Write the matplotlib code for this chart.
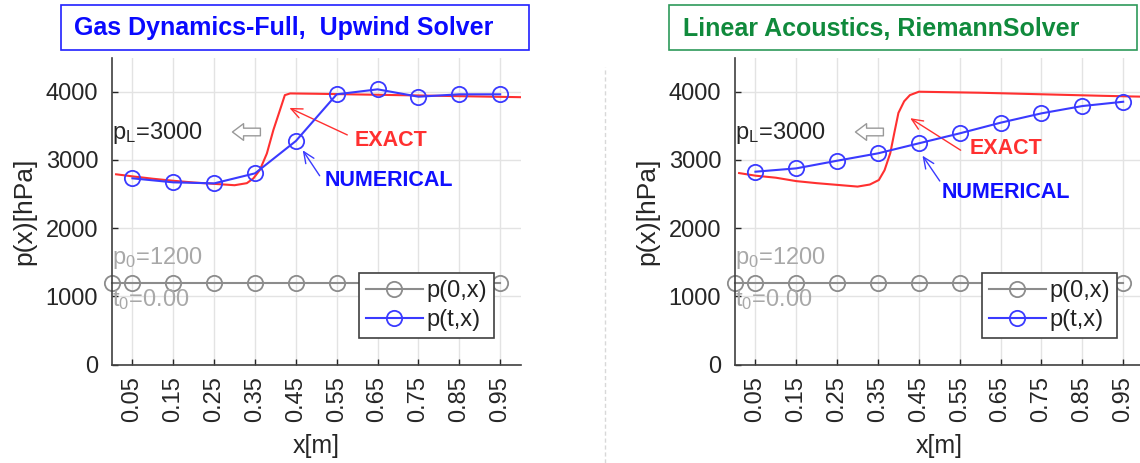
import matplotlib
matplotlib.use("Agg")
import matplotlib.pyplot as plt
from matplotlib.patches import Rectangle
from matplotlib.lines import Line2D

plt.rcParams['font.family'] = ['Liberation Sans', 'DejaVu Sans']
plt.rcParams['mathtext.default'] = 'regular'

# grid points
x_cells = [0.05, 0.15, 0.25, 0.35, 0.45, 0.55, 0.65, 0.75, 0.85, 0.95]
x_init = [0.0, 0.05, 0.15, 0.25, 0.35, 0.45, 0.55, 0.65, 0.75, 0.85, 0.95]
p_init = [1200, 1200, 1200, 1200, 1200, 1200, 1200, 1200, 1200, 1200, 1200]
xtick_labels = ['0.05', '0.15', '0.25', '0.35', '0.45', '0.55', '0.65', '0.75', '0.85', '0.95']

# left panel: gas dynamics, upwind
p_num_left = [2731, 2672, 2657, 2804, 3278, 3962, 4035, 3927, 3962, 3962]
x_exact_left = [0.01, 0.05, 0.1, 0.15, 0.2, 0.25, 0.3, 0.33, 0.346, 0.362, 0.379,
                0.395, 0.411, 0.423, 0.436, 0.5, 0.6, 0.7, 0.8, 0.9, 1.0]
p_exact_left = [2790, 2760, 2725, 2695, 2670, 2650, 2630, 2660, 2730, 2855, 3095,
                3440, 3730, 3950, 3975, 3970, 3960, 3950, 3940, 3930, 3920]

# right panel: linear acoustics, riemann
p_num_right = [2828, 2877, 2989, 3097, 3244, 3390, 3546, 3683, 3790, 3853]
x_exact_right = [0.01, 0.05, 0.1, 0.15, 0.2, 0.25, 0.3, 0.33, 0.352, 0.366, 0.38,
                 0.39, 0.40, 0.414, 0.428, 0.45, 0.5, 0.6, 0.7, 0.8, 0.9, 1.0]
p_exact_right = [2808, 2770, 2740, 2690, 2660, 2635, 2610, 2640, 2706, 2850, 3100,
                 3400, 3690, 3860, 3950, 4000, 3995, 3985, 3970, 3955, 3940, 3927]

GRAY = '#8c8c8c'
BLUE = '#3a3aff'
RED = '#ff3030'
DARK = '#262626'

fig = plt.figure(figsize=(11.4, 4.63), dpi=100)


def draw_panel(ax, p_num, x_ex, p_ex, exact_txt, exact_arrow, num_txt, num_arrow):
    ax.set_xlim(0, 1)
    ax.set_ylim(0, 4500)
    ax.set_xticks(x_cells)
    ax.set_xticklabels(xtick_labels, rotation=90)
    ax.set_yticks([0, 1000, 2000, 3000, 4000])
    ax.tick_params(direction='in', length=4, labelsize=17, colors=DARK, width=1)
    ax.tick_params(axis='y', pad=10)
    ax.tick_params(axis='x', pad=8)
    ax.grid(True, color='#e3e3e3', lw=1)
    ax.set_axisbelow(True)
    for s in ['top', 'right']:
        ax.spines[s].set_visible(False)
    for s in ['left', 'bottom']:
        ax.spines[s].set_color('#404040')
        ax.spines[s].set_linewidth(1.2)
    ax.set_xlabel('x[m]', fontsize=18, color=DARK, labelpad=9)
    ax.set_ylabel('p(x)[hPa]', fontsize=19, color=DARK, labelpad=7)

    ax.plot(x_init, p_init, '-o', color=GRAY, lw=1.5, ms=11, mfc='none',
            mew=1.3, clip_on=False, label='p(0,x)')
    ax.plot(x_ex, p_ex, '-', color=RED, lw=1.5, zorder=3)
    ax.plot(x_cells, p_num, '-o', color=BLUE, lw=1.5, ms=11, mfc='none',
            mew=1.3, clip_on=False, label='p(t,x)', zorder=4)

    ax.text(0.0, 3400, r'p$_{L}$=3000', fontsize=17, color=DARK, va='center')
    ax.text(0.0, 1560, r'p$_{0}$=1200', fontsize=17, color='#a8a8a8', va='center')
    ax.text(0.0, 950, r't$_{0}$=0.00', fontsize=17, color='#a8a8a8', va='center')
    ax.annotate('', xy=(0.288, 3410), xytext=(0.37, 3410),
                arrowprops=dict(arrowstyle='simple,head_length=0.8,head_width=1.2,tail_width=0.55',
                                fc='white', ec='#999999', lw=1))

    ax.text(exact_txt[0], exact_txt[1], 'EXACT', fontsize=15.5, color=RED,
            fontweight='bold', va='center')
    ax.annotate('', xy=exact_arrow[1], xytext=exact_arrow[0],
                arrowprops=dict(arrowstyle='->,head_length=0.8,head_width=0.35', color=RED, lw=1))
    ax.text(num_txt[0], num_txt[1], 'NUMERICAL', fontsize=15.5, color='#1010ff',
            fontweight='bold', va='center')
    ax.annotate('', xy=num_arrow[1], xytext=num_arrow[0],
                arrowprops=dict(arrowstyle='->,head_length=0.8,head_width=0.35', color=BLUE, lw=1))

    leg = ax.legend(loc='lower left', bbox_to_anchor=(0.604, 0.087), fontsize=17,
                    fancybox=False, edgecolor='#404040', framealpha=1,
                    handlelength=2.4, handletextpad=0.15, labelspacing=0.3,
                    borderpad=0.3, borderaxespad=0)
    leg.get_frame().set_linewidth(1.2)
    for t in leg.get_texts():
        t.set_color('#222222')


ax1 = fig.add_axes([112 / 1140, 1 - 364.7 / 463, 408.6 / 1140, 307.1 / 463])
draw_panel(ax1, p_num_left, x_exact_left, p_exact_left,
           (0.593, 3292), ((0.582, 3350), (0.428, 3780)),
           (0.521, 2706), ((0.512, 2735), (0.463, 3176)))

ax2 = fig.add_axes([735 / 1140, 1 - 364.7 / 463, 408.6 / 1140, 307.1 / 463])
draw_panel(ax2, p_num_right, x_exact_right, p_exact_right,
           (0.575, 3175), ((0.558, 3121), (0.423, 3634)),
           (0.506, 2516), ((0.505, 2658), (0.455, 3097)))

# title boxes
fig.add_artist(Rectangle((60.7 / 1140, 1 - 50 / 463), 468.3 / 1140, 45 / 463,
                         transform=fig.transFigure, fc='white', ec='#2020ff', lw=1.2))
fig.text(74.5 / 1140, 1 - 28.5 / 463, 'Gas Dynamics-Full,  Upwind Solver', fontsize=18,
         fontweight='bold', color='#0a0aff', va='center')
fig.add_artist(Rectangle((669 / 1140, 1 - 50 / 463), 468 / 1140, 45 / 463,
                         transform=fig.transFigure, fc='white', ec='#2e9a5a', lw=1.2))
fig.text(682.7 / 1140, 1 - 28.5 / 463, 'Linear Acoustics, RiemannSolver', fontsize=18,
         fontweight='bold', color='#108a3c', va='center')

# separator
fig.add_artist(Line2D([604.5 / 1140, 604.5 / 1140], [0, 1 - 67 / 463],
                      transform=fig.transFigure, color='#d8d8d8', lw=1, ls=(0, (3, 2))))

fig.savefig('out.png', dpi=100)
